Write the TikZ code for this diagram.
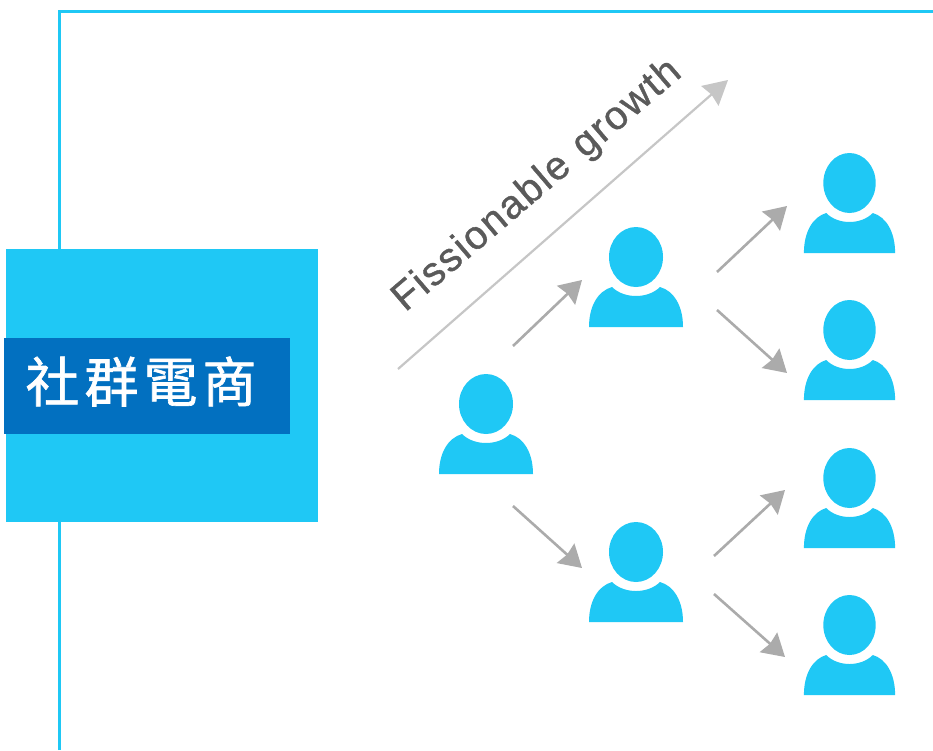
\documentclass[tikz,border=0pt]{standalone}
\usepackage{fontspec}
\setmainfont{Liberation Sans}[FakeBold=1,LetterSpace=4.5]
\newfontfamily\cjkfont{Noto Sans CJK TC}[FakeBold=1.2]
\usetikzlibrary{arrows.meta}
\definecolor{cyanA}{HTML}{1FC8F5}
\definecolor{blueA}{HTML}{0270C0}
\definecolor{arrowA}{HTML}{ABABAB}
\definecolor{arrowB}{HTML}{C6C6C6}
\definecolor{textA}{HTML}{5A5A5A}
\tikzset{
  frameline/.style={draw=cyanA,line width=3pt},
  flow/.style={draw=arrowA,line width=2.6pt,-{Stealth[length=22pt,width=26pt,inset=2pt]}},
  bigflow/.style={draw=arrowB,line width=2.2pt,-{Stealth[length=24pt,width=26pt,inset=2pt]}},
  hitbox/.style={inner sep=0pt,minimum width=#1,minimum height=102pt},
  person/.pic={
    \fill[cyanA] (-47,51) .. controls (-47,30) and (-38,15) .. (-24,11)
      .. controls (-18,17) and (-9,20) .. (0,20)
      .. controls (9,20) and (18,17) .. (24,11)
      .. controls (38,15) and (47,30) .. (47,51) -- cycle;
    \fill[white] (0,-19) ellipse [x radius=30,y radius=33];
    \fill[cyanA] (0,-19) ellipse [x radius=27,y radius=30];
  }
}
\begin{document}
\begin{tikzpicture}[x=1pt,y=-1pt]
\useasboundingbox (0,0) rectangle (933,750);
\fill[white] (0,0) rectangle (933,750);
% frame
\coordinate (frameTop) at (59,750);
\coordinate (frameCorner) at (59,11);
\coordinate (frameEnd) at (933,11);
\draw[frameline] (frameTop) -- (frameCorner) -- (frameEnd);
% title block
\node[fill=cyanA,minimum width=312pt,minimum height=273pt,inner sep=0pt] (panel) at (162,385.5) {};
\node[fill=blueA,minimum width=286pt,minimum height=96pt,inner sep=0pt] (title) at (147,386) {};
\node[text=white,inner sep=0pt,font=\cjkfont\fontsize{54}{54}\selectfont] (titletext) at (141,381.5) {社\hskip 5pt 群\hskip 5pt 電\hskip 5pt 商};
% people
\node[hitbox=94pt] (a) at (486,423) {};
\node[hitbox=94pt] (b) at (636,276) {};
\node[hitbox=94pt] (c) at (636,571) {};
\node[hitbox=91pt] (r1) at (849.5,202) {};
\node[hitbox=91pt] (r2) at (849.5,349) {};
\node[hitbox=91pt] (r3) at (849.5,497) {};
\node[hitbox=91pt] (r4) at (849.5,644) {};
\pic at (a) {person};
\pic at (b) {person};
\pic at (c) {person};
\pic[xscale=.97] at (r1) {person};
\pic[xscale=.97] at (r2) {person};
\pic[xscale=.97] at (r3) {person};
\pic[xscale=.97] at (r4) {person};
% connectors
\draw[flow] ([shift={(27,-77)}]a.center) -- ([shift={(-54,4)}]b.center);
\draw[flow] ([shift={(-132.5,70)}]r1.center) -- ([shift={(-62.5,4)}]r1.center);
\draw[flow] ([shift={(81,34)}]b.center) -- ([shift={(-62.5,24)}]r2.center);
\draw[flow] ([shift={(27,83)}]a.center) -- ([shift={(-54,-3)}]c.center);
\draw[flow] ([shift={(78,-15)}]c.center) -- ([shift={(-64.5,-7)}]r3.center);
\draw[flow] ([shift={(78,23)}]c.center) -- ([shift={(-64.5,13)}]r4.center);
\coordinate (growthStart) at (398,369);
\coordinate (growthEnd) at (728,80);
\draw[bigflow] (growthStart) -- (growthEnd);
\node[text=textA,rotate=40.5,inner sep=0pt,font=\fontsize{40}{40}\selectfont] (growth) at (537.5,186) {Fissionable\hskip 16pt growth};
\end{tikzpicture}
\end{document}
